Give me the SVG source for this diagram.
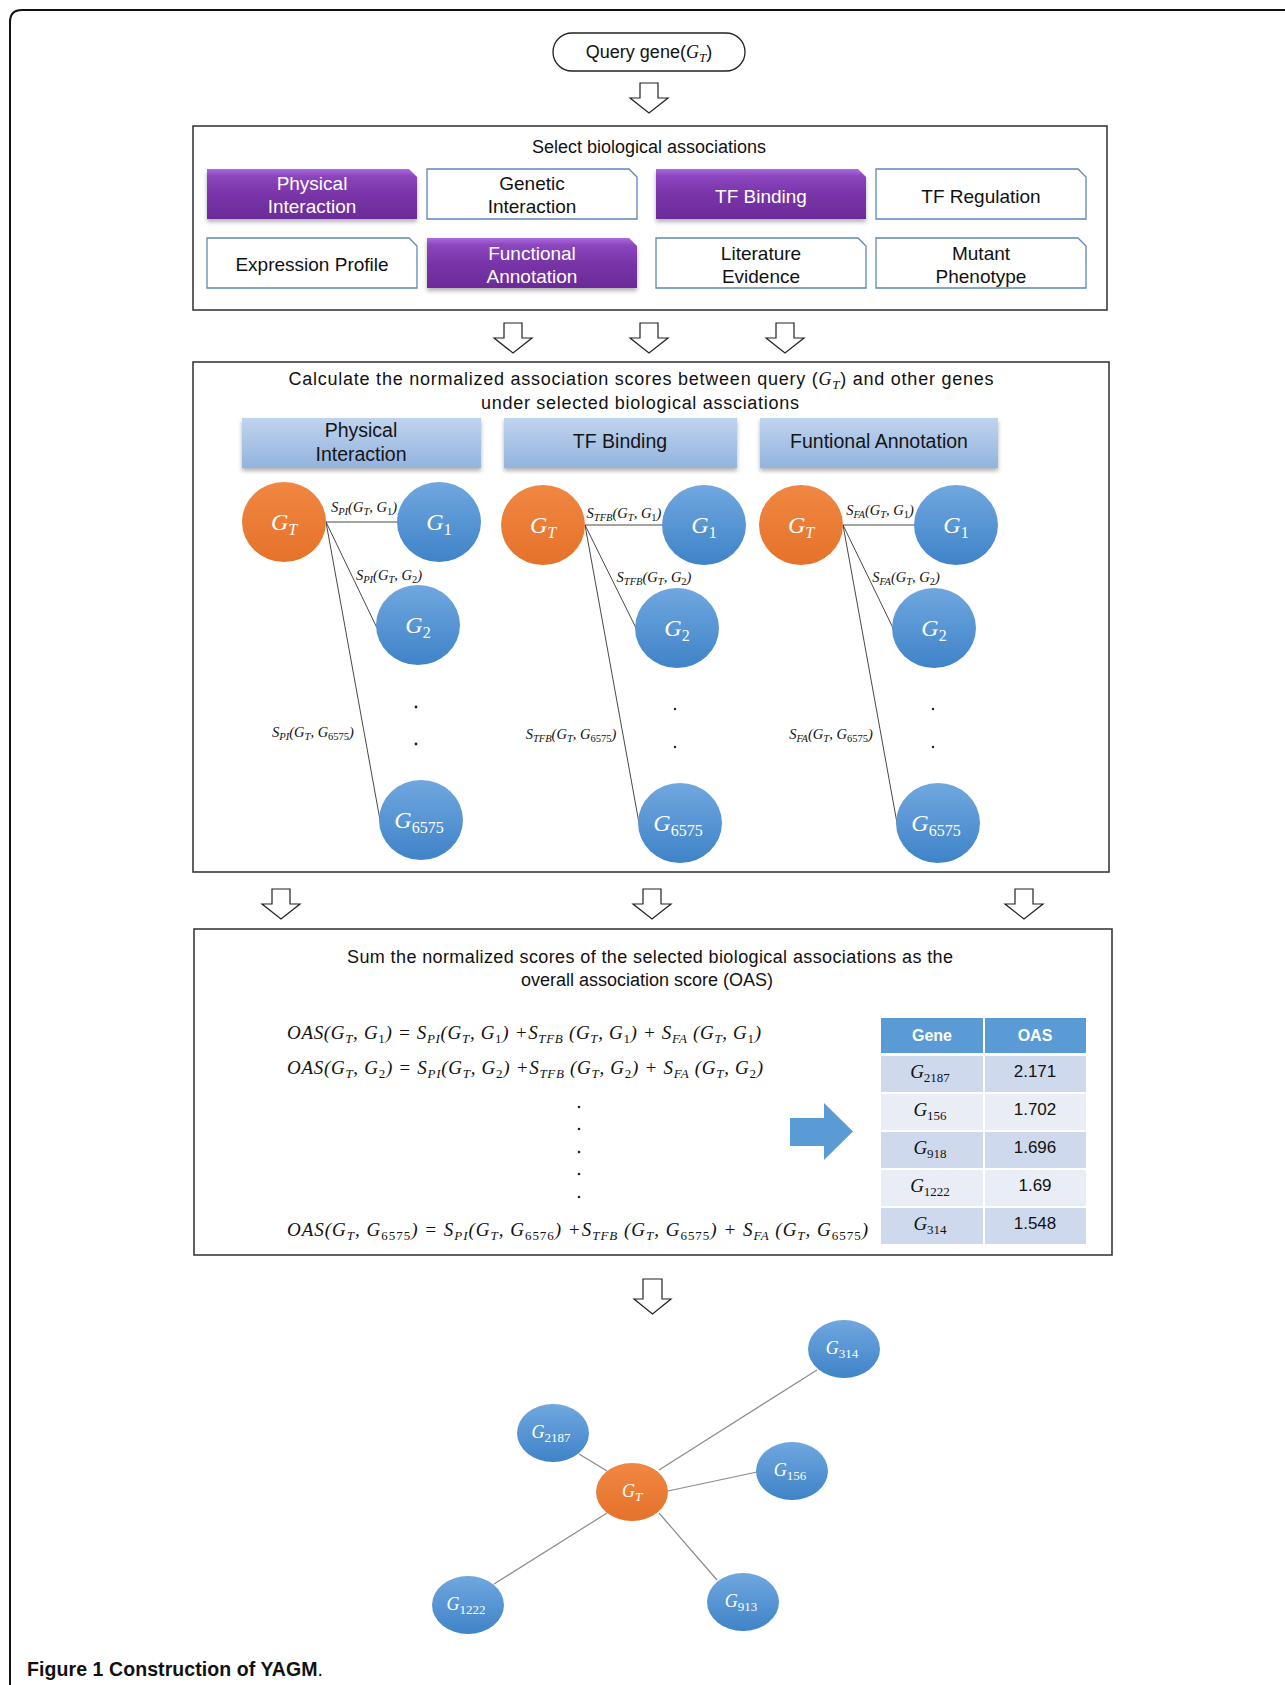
<svg xmlns="http://www.w3.org/2000/svg" width="1285" height="1685" viewBox="0 0 1285 1685">
<defs>
<style>
.frame{fill:none;stroke:#111;stroke-width:2}
.box{fill:#fff;stroke:#3a3a3a;stroke-width:1.6}
.sans{font-family:"Liberation Sans",Arial,sans-serif}
.t18{font-size:18px;fill:#111;text-anchor:middle}
.tile-p{fill:url(#pg);filter:url(#sh)}
.tile-w{fill:#fff;stroke:#5f86bb;stroke-width:1.3}
.tw{font-size:19px;fill:#fff;text-anchor:middle}
.td{font-size:19px;fill:#111;text-anchor:middle}
.bar{fill:url(#bar);filter:url(#sh)}
.bt{font-size:19.5px;fill:#151515;text-anchor:middle}
.or{fill:url(#og)}
.bl{fill:url(#bg)}
.m{font-family:"Liberation Serif","DejaVu Serif",serif;font-style:italic}
.up{font-style:normal}
.nl{font-size:24px;fill:#fff;text-anchor:middle}
.nls{font-size:16px;baseline-shift:-5px}
.el{font-size:14.5px;fill:#111;text-anchor:middle}
.els{font-size:10.5px;baseline-shift:-3px}
.eq{font-size:19px;fill:#111}
.eqs{font-size:13px;baseline-shift:-4px}
.edge{stroke:#333;stroke-width:0.9;fill:none}
.nedge{stroke:#8a8a8a;stroke-width:1.2;fill:none}
.ha{fill:#fff;stroke:#222;stroke-width:1.2;stroke-linejoin:miter}
.dot{fill:#222}
.th{fill:#5b9bd5}
.r1{fill:#cfd9ed}
.r2{fill:#e8edf6}
.tht{font-size:16px;font-weight:bold;fill:#fff;text-anchor:middle}
.tn{font-size:17px;fill:#111;text-anchor:middle}
.tg{font-size:19px;fill:#111;text-anchor:middle}
.tgs{font-size:13px;baseline-shift:-4px}
.bn{font-size:18px;fill:#fff;text-anchor:middle}
.bns{font-size:13px;baseline-shift:-4px}
</style>
<linearGradient id="pg" x1="0" y1="0" x2="0" y2="1">
<stop offset="0" stop-color="#ac6ade"/>
<stop offset="0.14" stop-color="#8c46bf"/>
<stop offset="0.5" stop-color="#7934a8"/>
<stop offset="1" stop-color="#6b2b98"/>
</linearGradient>
<linearGradient id="bar" x1="0" y1="0" x2="0" y2="1">
<stop offset="0" stop-color="#c0d4ee"/>
<stop offset="1" stop-color="#93b3de"/>
</linearGradient>
<linearGradient id="og" x1="0" y1="0" x2="0" y2="1">
<stop offset="0" stop-color="#f08742"/>
<stop offset="1" stop-color="#e5722a"/>
</linearGradient>
<linearGradient id="bg" x1="0" y1="0" x2="0" y2="1">
<stop offset="0" stop-color="#70a7df"/>
<stop offset="1" stop-color="#3f83c8"/>
</linearGradient>
<filter id="sh" x="-5%" y="-10%" width="110%" height="135%">
<feDropShadow dx="0" dy="3" stdDeviation="2" flood-color="#000" flood-opacity="0.3"/>
</filter>
<path id="ha" d="M-9,0 H9 V15 H19 L0,30 L-19,15 H-9 Z"/>
</defs>

<rect x="0" y="0" width="1285" height="1685" fill="#fff"/>
<path class="frame" d="M10,1685 V22 Q10,10 22,10 H1285"/>

<g id="query">
<rect x="553" y="33" width="192" height="38" rx="19" fill="#fff" stroke="#222" stroke-width="1.3"/>
<text class="sans t18" x="649" y="58">Query gene(<tspan class="m">G</tspan><tspan class="m" font-size="13px" baseline-shift="-4px">T</tspan>)</text>
</g>

<g id="stage1">
<rect class="box" x="193" y="126" width="914" height="184"/>
<text class="sans t18" x="649" y="153">Select biological associations</text>
</g>

<g id="stage2">
<rect class="box" x="193" y="362" width="916" height="510"/>
<text class="sans t18" x="641" y="385" textLength="705">Calculate the normalized association scores between query (<tspan class="m">G</tspan><tspan class="m" font-size="13px" baseline-shift="-4px">T</tspan>) and other genes</text>
<text class="sans t18" x="640" y="409" textLength="318">under selected biological assciations</text>
</g>

<g id="stage3">
<rect class="box" x="194" y="929" width="918" height="326"/>
<text class="sans t18" x="650" y="963" textLength="606" font-size="17.5px">Sum the normalized scores of the selected biological associations as the</text>
<text class="sans t18" x="647" y="986" font-size="17.5px">overall association score (OAS)</text>
</g>

<g id="connectors">
<use href="#ha" class="ha" x="649" y="83"/>
<use href="#ha" class="ha" x="513" y="323"/>
<use href="#ha" class="ha" x="649" y="323"/>
<use href="#ha" class="ha" x="785" y="323"/>
<use href="#ha" class="ha" x="281" y="889"/>
<use href="#ha" class="ha" x="652" y="889"/>
<use href="#ha" class="ha" x="1024" y="889"/>
<path class="ha" d="M643,1279 H662 V1299 H671 L652.5,1314 L634,1299 H643 Z"/>
<line class="edge" x1="326" y1="522" x2="397" y2="522"/>
<line class="edge" x1="326" y1="522" x2="377" y2="628"/>
<line class="edge" x1="326" y1="522" x2="380" y2="820"/>
<line class="edge" x1="585" y1="525" x2="662" y2="525"/>
<line class="edge" x1="585" y1="525" x2="636" y2="628"/>
<line class="edge" x1="585" y1="525" x2="639" y2="823"/>
<line class="edge" x1="843" y1="525" x2="914" y2="525"/>
<line class="edge" x1="843" y1="525" x2="893" y2="628"/>
<line class="edge" x1="843" y1="525" x2="897" y2="823"/>
<line class="nedge" x1="659" y1="1470" x2="817" y2="1370"/>
<line class="nedge" x1="607" y1="1471" x2="579" y2="1454"/>
<line class="nedge" x1="668" y1="1491" x2="757" y2="1472"/>
<line class="nedge" x1="607" y1="1513" x2="494" y2="1584"/>
<line class="nedge" x1="659" y1="1513" x2="717" y2="1580"/>
</g>

<g id="tile-physical">
<path class="tile-p" d="M207,169 H409 L417,177 V219 H207 Z"/>
<text class="sans tw" x="312" y="190">Physical</text>
<text class="sans tw" x="312" y="213">Interaction</text>
</g>
<g id="tile-genetic">
<path class="tile-w" d="M427,169 H629 L637,177 V219 H427 Z"/>
<text class="sans td" x="532" y="190">Genetic</text>
<text class="sans td" x="532" y="213">Interaction</text>
</g>
<g id="tile-tfbinding">
<path class="tile-p" d="M656,169 H858 L866,177 V219 H656 Z"/>
<text class="sans tw" x="761" y="203">TF Binding</text>
</g>
<g id="tile-tfregulation">
<path class="tile-w" d="M876,169 H1078 L1086,177 V219 H876 Z"/>
<text class="sans td" x="981" y="203">TF Regulation</text>
</g>
<g id="tile-expression">
<path class="tile-w" d="M207,238 H409 L417,246 V288 H207 Z"/>
<text class="sans td" x="312" y="271">Expression Profile</text>
</g>
<g id="tile-functional">
<path class="tile-p" d="M427,238 H629 L637,246 V288 H427 Z"/>
<text class="sans tw" x="532" y="260">Functional</text>
<text class="sans tw" x="532" y="283">Annotation</text>
</g>
<g id="tile-literature">
<path class="tile-w" d="M656,238 H858 L866,246 V288 H656 Z"/>
<text class="sans td" x="761" y="260">Literature</text>
<text class="sans td" x="761" y="283">Evidence</text>
</g>
<g id="tile-mutant">
<path class="tile-w" d="M876,238 H1078 L1086,246 V288 H876 Z"/>
<text class="sans td" x="981" y="260">Mutant</text>
<text class="sans td" x="981" y="283">Phenotype</text>
</g>

<g id="bar-physical">
<rect class="bar" x="242" y="418" width="239" height="50"/>
<text class="sans bt" x="361" y="437">Physical</text>
<text class="sans bt" x="361" y="461">Interaction</text>
</g>
<g id="bar-tfbinding">
<rect class="bar" x="504" y="418" width="233" height="50"/>
<text class="sans bt" x="620" y="448">TF Binding</text>
</g>
<g id="bar-functional">
<rect class="bar" x="760" y="418" width="238" height="50"/>
<text class="sans bt" x="879" y="448">Funtional Annotation</text>
</g>

<!-- column 1 -->
<g id="c1-GT"><ellipse class="or" cx="284" cy="522" rx="42" ry="40"/><text class="m nl" x="284" y="530">G<tspan class="nls">T</tspan></text></g>
<g id="c1-G1"><ellipse class="bl" cx="439" cy="522" rx="42" ry="40"/><text class="m nl" x="439" y="530">G<tspan class="nls up">1</tspan></text></g>
<g id="c1-G2"><ellipse class="bl" cx="418" cy="625" rx="42" ry="40"/><text class="m nl" x="418" y="633">G<tspan class="nls up">2</tspan></text></g>
<g id="c1-G6575"><ellipse class="bl" cx="421" cy="820" rx="42" ry="40"/><text class="m nl" x="419" y="828">G<tspan class="nls up">6575</tspan></text></g>
<!-- column 2 -->
<g id="c2-GT"><ellipse class="or" cx="543" cy="525" rx="42" ry="40"/><text class="m nl" x="543" y="533">G<tspan class="nls">T</tspan></text></g>
<g id="c2-G1"><ellipse class="bl" cx="704" cy="525" rx="42" ry="40"/><text class="m nl" x="704" y="533">G<tspan class="nls up">1</tspan></text></g>
<g id="c2-G2"><ellipse class="bl" cx="677" cy="628" rx="42" ry="40"/><text class="m nl" x="677" y="636">G<tspan class="nls up">2</tspan></text></g>
<g id="c2-G6575"><ellipse class="bl" cx="680" cy="823" rx="42" ry="40"/><text class="m nl" x="678" y="831">G<tspan class="nls up">6575</tspan></text></g>
<!-- column 3 -->
<g id="c3-GT"><ellipse class="or" cx="801" cy="525" rx="42" ry="40"/><text class="m nl" x="801" y="533">G<tspan class="nls">T</tspan></text></g>
<g id="c3-G1"><ellipse class="bl" cx="956" cy="525" rx="42" ry="40"/><text class="m nl" x="956" y="533">G<tspan class="nls up">1</tspan></text></g>
<g id="c3-G2"><ellipse class="bl" cx="934" cy="628" rx="42" ry="40"/><text class="m nl" x="934" y="636">G<tspan class="nls up">2</tspan></text></g>
<g id="c3-G6575"><ellipse class="bl" cx="938" cy="823" rx="42" ry="40"/><text class="m nl" x="936" y="831">G<tspan class="nls up">6575</tspan></text></g>

<g id="edge-labels">
<text class="m el" x="364" y="512">S<tspan class="els">PI</tspan>(G<tspan class="els">T</tspan>, G<tspan class="els up">1</tspan>)</text>
<text class="m el" x="389" y="580">S<tspan class="els">PI</tspan>(G<tspan class="els">T</tspan>, G<tspan class="els up">2</tspan>)</text>
<text class="m el" x="313" y="737">S<tspan class="els">PI</tspan>(G<tspan class="els">T</tspan>, G<tspan class="els up">6575</tspan>)</text>
<text class="m el" x="624" y="518">S<tspan class="els">TFB</tspan>(G<tspan class="els">T</tspan>, G<tspan class="els up">1</tspan>)</text>
<text class="m el" x="654" y="582">S<tspan class="els">TFB</tspan>(G<tspan class="els">T</tspan>, G<tspan class="els up">2</tspan>)</text>
<text class="m el" x="571" y="739">S<tspan class="els">TFB</tspan>(G<tspan class="els">T</tspan>, G<tspan class="els up">6575</tspan>)</text>
<text class="m el" x="880" y="515">S<tspan class="els">FA</tspan>(G<tspan class="els">T</tspan>, G<tspan class="els up">1</tspan>)</text>
<text class="m el" x="906" y="582">S<tspan class="els">FA</tspan>(G<tspan class="els">T</tspan>, G<tspan class="els up">2</tspan>)</text>
<text class="m el" x="831" y="739">S<tspan class="els">FA</tspan>(G<tspan class="els">T</tspan>, G<tspan class="els up">6575</tspan>)</text>
<circle class="dot" cx="416" cy="707" r="1.4"/><circle class="dot" cx="416" cy="744" r="1.4"/>
<circle class="dot" cx="675" cy="709" r="1.2"/><circle class="dot" cx="675" cy="747" r="1.2"/>
<circle class="dot" cx="933" cy="709" r="1.2"/><circle class="dot" cx="933" cy="747" r="1.2"/>
</g>

<g id="equations">
<text class="m eq" x="287" y="1039" textLength="474">OAS(G<tspan class="eqs">T</tspan>, G<tspan class="eqs up">1</tspan>) = S<tspan class="eqs">PI</tspan>(G<tspan class="eqs">T</tspan>, G<tspan class="eqs up">1</tspan>) +S<tspan class="eqs">TFB</tspan> (G<tspan class="eqs">T</tspan>, G<tspan class="eqs up">1</tspan>) + S<tspan class="eqs">FA</tspan> (G<tspan class="eqs">T</tspan>, G<tspan class="eqs up">1</tspan>)</text>
<text class="m eq" x="287" y="1074" textLength="476">OAS(G<tspan class="eqs">T</tspan>, G<tspan class="eqs up">2</tspan>) = S<tspan class="eqs">PI</tspan>(G<tspan class="eqs">T</tspan>, G<tspan class="eqs up">2</tspan>) +S<tspan class="eqs">TFB</tspan> (G<tspan class="eqs">T</tspan>, G<tspan class="eqs up">2</tspan>) + S<tspan class="eqs">FA</tspan> (G<tspan class="eqs">T</tspan>, G<tspan class="eqs up">2</tspan>)</text>
<text class="m eq" x="287" y="1236" textLength="581">OAS(G<tspan class="eqs">T</tspan>, G<tspan class="eqs up">6575</tspan>) = S<tspan class="eqs">PI</tspan>(G<tspan class="eqs">T</tspan>, G<tspan class="eqs up">6576</tspan>) +S<tspan class="eqs">TFB</tspan> (G<tspan class="eqs">T</tspan>, G<tspan class="eqs up">6575</tspan>) + S<tspan class="eqs">FA</tspan> (G<tspan class="eqs">T</tspan>, G<tspan class="eqs up">6575</tspan>)</text>
<circle class="dot" cx="579" cy="1107" r="1.3"/>
<circle class="dot" cx="579" cy="1129" r="1.3"/>
<circle class="dot" cx="579" cy="1152" r="1.3"/>
<circle class="dot" cx="579" cy="1174" r="1.3"/>
<circle class="dot" cx="579" cy="1197" r="1.3"/>
</g>

<g id="big-arrow">
<path d="M790,1118 H824 V1103 L853,1131.5 L824,1160 V1146 H790 Z" fill="#5b9bd5"/>
</g>

<g id="oas-table">
<rect class="th" x="881" y="1018" width="102" height="35"/>
<rect class="th" x="985" y="1018" width="101" height="35"/>
<text class="sans tht" x="932" y="1041">Gene</text>
<text class="sans tht" x="1035" y="1041">OAS</text>
<rect class="r1" x="881" y="1056" width="102" height="36"/><rect class="r1" x="985" y="1056" width="101" height="36"/>
<rect class="r2" x="881" y="1094" width="102" height="36"/><rect class="r2" x="985" y="1094" width="101" height="36"/>
<rect class="r1" x="881" y="1132" width="102" height="36"/><rect class="r1" x="985" y="1132" width="101" height="36"/>
<rect class="r2" x="881" y="1170" width="102" height="36"/><rect class="r2" x="985" y="1170" width="101" height="36"/>
<rect class="r1" x="881" y="1208" width="102" height="36"/><rect class="r1" x="985" y="1208" width="101" height="36"/>
<text class="m tg" x="930" y="1078">G<tspan class="tgs up">2187</tspan></text>
<text class="m tg" x="930" y="1116">G<tspan class="tgs up">156</tspan></text>
<text class="m tg" x="930" y="1154">G<tspan class="tgs up">918</tspan></text>
<text class="m tg" x="930" y="1192">G<tspan class="tgs up">1222</tspan></text>
<text class="m tg" x="930" y="1230">G<tspan class="tgs up">314</tspan></text>
<text class="sans tn" x="1035" y="1077">2.171</text>
<text class="sans tn" x="1035" y="1115">1.702</text>
<text class="sans tn" x="1035" y="1153">1.696</text>
<text class="sans tn" x="1035" y="1191">1.69</text>
<text class="sans tn" x="1035" y="1229">1.548</text>
</g>

<g id="n-GT"><ellipse class="or" cx="632" cy="1492" rx="36" ry="29"/><text class="m bn" x="632" y="1497">G<tspan class="bns">T</tspan></text></g>
<g id="n-G314"><ellipse class="bl" cx="844" cy="1349" rx="36" ry="29"/><text class="m bn" x="842" y="1354">G<tspan class="bns up">314</tspan></text></g>
<g id="n-G2187"><ellipse class="bl" cx="553" cy="1433" rx="36" ry="29"/><text class="m bn" x="551" y="1438">G<tspan class="bns up">2187</tspan></text></g>
<g id="n-G156"><ellipse class="bl" cx="792" cy="1471" rx="36" ry="29"/><text class="m bn" x="790" y="1476">G<tspan class="bns up">156</tspan></text></g>
<g id="n-G1222"><ellipse class="bl" cx="468" cy="1605" rx="36" ry="29"/><text class="m bn" x="466" y="1610">G<tspan class="bns up">1222</tspan></text></g>
<g id="n-G913"><ellipse class="bl" cx="743" cy="1602" rx="36" ry="29"/><text class="m bn" x="741" y="1607">G<tspan class="bns up">913</tspan></text></g>

<text class="sans" x="27" y="1676" font-size="19.5px" fill="#111" textLength="296"><tspan font-weight="bold">Figure 1 Construction of YAGM</tspan>.</text>
</svg>
